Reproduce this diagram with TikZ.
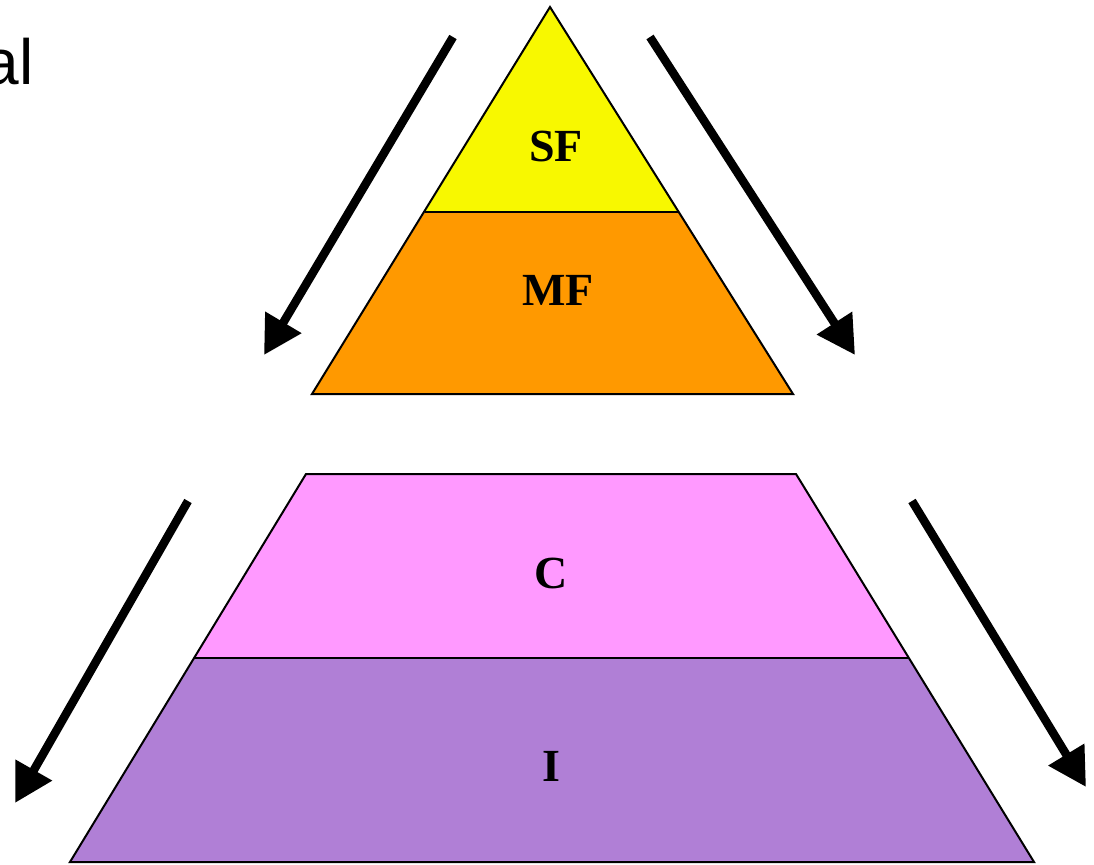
\documentclass[tikz,border=0pt]{standalone}
\usepackage{fontspec}
\setmainfont{Liberation Serif}
\newfontfamily\lsans{Liberation Sans}
\usetikzlibrary{arrows.meta}
\definecolor{sfcol}{HTML}{F8F800}
\definecolor{mfcol}{HTML}{FF9900}
\definecolor{ccol}{HTML}{FF99FF}
\definecolor{icol}{HTML}{B07FD6}
\tikzset{
  layer/.style={draw=black, line width=2pt, line join=miter},
  lbl/.style={font=\fontsize{46}{52}\selectfont\bfseries, inner sep=0pt},
  bigarrow/.style={line width=8.5pt, -{Triangle[width=40pt,length=38pt]}},
}
\begin{document}
\begin{tikzpicture}[x=1pt,y=-1pt]
\useasboundingbox (0,0) rectangle (1094,864);
% upper pyramid
\coordinate (apex) at (550,7);
\coordinate (sfl) at (425,212);
\coordinate (sfr) at (679,212);
\coordinate (mfl) at (312,394);
\coordinate (mfr) at (793,394);
\fill[sfcol] (apex) -- (sfr) -- (sfl) -- cycle;
\fill[mfcol] (sfl) -- (sfr) -- (mfr) -- (mfl) -- cycle;
\draw[layer] (sfl) -- (sfr);
\draw[layer] (apex) -- (mfr) -- (mfl) -- cycle;
% lower trapezoid
\coordinate (ctl) at (306,474);
\coordinate (ctr) at (796,474);
\coordinate (cbl) at (195,658);
\coordinate (cbr) at (908,658);
\coordinate (ibl) at (70,862);
\coordinate (ibr) at (1034,862);
\fill[ccol] (ctl) -- (ctr) -- (cbr) -- (cbl) -- cycle;
\fill[icol] (cbl) -- (cbr) -- (ibr) -- (ibl) -- cycle;
\draw[layer] (cbl) -- (cbr);
\draw[layer] (ctl) -- (ctr) -- (ibr) -- (ibl) -- cycle;
% labels
\node[lbl] (sf) at (556,146) {SF};
\node[lbl] (mf) at (558,290) {MF};
\node[lbl] (c) at (551,573) {C};
\node[lbl] (i) at (551,766) {I};
% partial text
\node[anchor=base east, inner sep=0pt, font=\lsans\fontsize{64}{70}\selectfont] (al) at (34,85) {al};
% arrows
\coordinate (a1s) at (453,37);
\coordinate (a1e) at (264,355);
\coordinate (a2s) at (650,37);
\coordinate (a2e) at (855,355);
\coordinate (a3s) at (188,501);
\coordinate (a3e) at (15,803);
\coordinate (a4s) at (912,501);
\coordinate (a4e) at (1086,787);
\draw[bigarrow] (a1s) -- (a1e);
\draw[bigarrow] (a2s) -- (a2e);
\draw[bigarrow] (a3s) -- (a3e);
\draw[bigarrow] (a4s) -- (a4e);
\end{tikzpicture}
\end{document}
